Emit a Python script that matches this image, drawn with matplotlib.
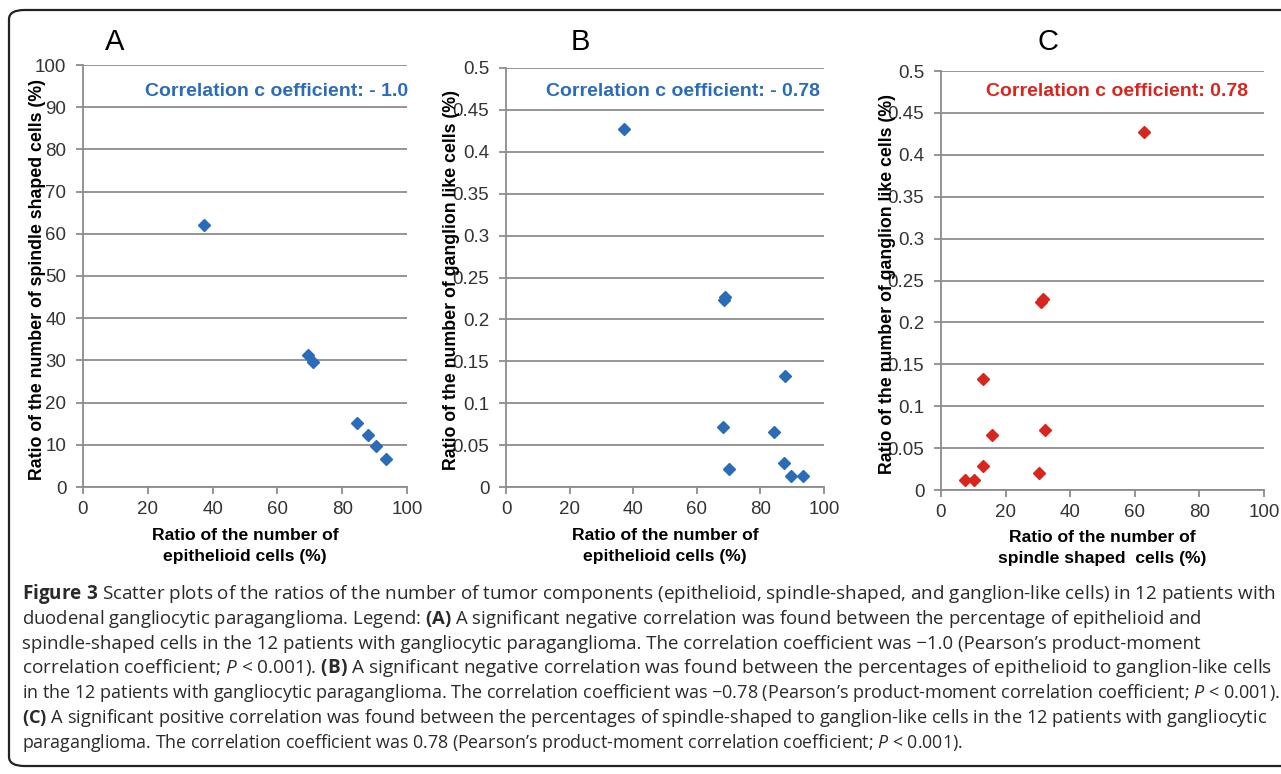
import matplotlib
matplotlib.use("Agg")
import matplotlib.pyplot as plt
from matplotlib.patches import FancyBboxPatch

# --- data ---
a_epitelioide = [37.2, 69.3, 70.9, 84.7, 87.9, 90.4, 93.4]
a_fusiforme = [62.0, 31.3, 29.6, 15.2, 12.3, 9.8, 6.6]

b_epitelioide = [37.1, 68.7, 69.0, 68.1, 70.0, 87.7, 84.3, 87.4, 89.7, 93.4]
b_ganglion = [0.427, 0.223, 0.227, 0.072, 0.021, 0.132, 0.066, 0.029, 0.013, 0.013]

c_fusiforme = [62.7, 30.9, 31.5, 12.9, 32.1, 15.9, 12.9, 30.2, 7.3, 10.3]
c_ganglion = [0.427, 0.224, 0.228, 0.132, 0.072, 0.066, 0.029, 0.020, 0.012, 0.012]

ticks_pct = [0, 20, 40, 60, 80, 100]
ticks_a_y = [0, 10, 20, 30, 40, 50, 60, 70, 80, 90, 100]
ticks_frac = [0, 0.05, 0.1, 0.15, 0.2, 0.25, 0.3, 0.35, 0.4, 0.45, 0.5]

azul = '#2b6cb8'
vermelho = '#d8261f'
cinza = '#8c8c8c'

plt.rcParams['font.family'] = ['Liberation Sans', 'DejaVu Sans']
plt.rcParams['mathtext.fontset'] = 'custom'
plt.rcParams['mathtext.rm'] = 'Open Sans'
plt.rcParams['mathtext.bf'] = 'Open Sans:bold'
plt.rcParams['mathtext.it'] = 'Open Sans:italic'

W, H = 1281, 774
fig = plt.figure(figsize=(W / 100, H / 100), dpi=100)


def caixa(x0, y0, x1, y1):
    # pixel box (top-left origin) -> figure fraction
    return [x0 / W, 1 - y1 / H, (x1 - x0) / W, (y1 - y0) / H]


# moldura arredondada
moldura = FancyBboxPatch((9 / W, 8 / H), 1290 / W, 756 / H,
                         boxstyle="round,pad=0,rounding_size=0.012",
                         transform=fig.transFigure, fill=False,
                         edgecolor='#222222', linewidth=1.6, clip_on=False)
fig.patches.append(moldura)

paineis = [
    dict(box=(83, 65, 407, 487), x=a_epitelioide, y=a_fusiforme, cor=azul,
         yticks=ticks_a_y, ymax=100, letra='A', letra_x=115,
         texto='Correlation c oefficient: - 1.0', texto_x=408,
         ylabel='Ratio of the number of spindle shaped cells (%)', ylabel_x=38,
         xlabel=['Ratio of the number of', 'epithelioid cells (%)'], dy=49),
    dict(box=(506, 68, 824, 487), x=b_epitelioide, y=b_ganglion, cor=azul,
         yticks=ticks_frac, ymax=0.5, letra='B', letra_x=580,
         texto='Correlation c oefficient: - 0.78', texto_x=820,
         ylabel='Ratio of the number of ganglion like cells (%)', ylabel_x=451,
         xlabel=['Ratio of the number of', 'epithelioid cells (%)'], dy=49),
    dict(box=(941, 71, 1264, 490), x=c_fusiforme, y=c_ganglion, cor=vermelho,
         yticks=ticks_frac, ymax=0.5, letra='C', letra_x=1048,
         texto='Correlation c oefficient: 0.78', texto_x=1248,
         ylabel='Ratio of the number of ganglion like cells (%)', ylabel_x=887,
         xlabel=['Ratio of the number of', 'spindle shaped  cells (%)'], dy=48),
]

for p in paineis:
    x0, y0, x1, y1 = p['box']
    ax = fig.add_axes(caixa(x0, y0, x1, y1))
    ax.set_xlim(0, 100)
    ax.set_ylim(0, p['ymax'])
    ax.set_xticks(ticks_pct)
    ax.set_yticks(p['yticks'])
    ax.set_yticklabels([f"{v:g}" for v in p['yticks']])
    ax.yaxis.grid(True, color=cinza, linewidth=1.3)
    ax.set_axisbelow(True)
    for s in ['top', 'right']:
        ax.spines[s].set_visible(False)
    for s in ['left', 'bottom']:
        ax.spines[s].set_color(cinza)
        ax.spines[s].set_linewidth(1.3)
    ax.tick_params(axis='both', colors=cinza, length=5, width=1.3,
                   labelsize=13.5, labelcolor='#333333')
    ax.tick_params(axis='y', pad=7)
    ax.tick_params(axis='x', pad=5)
    ax.plot(p['x'], p['y'], 'D', color=p['cor'], markersize=6.5, linestyle='none',
            clip_on=False)

    # letra do painel
    fig.text(p['letra_x'] / W, 1 - 42 / H, p['letra'], fontsize=21,
             ha='center', va='center')
    # coeficiente de correlacao
    fig.text(p['texto_x'] / W, 1 - 91 / H, p['texto'], color=p['cor'],
             fontsize=14, fontweight='bold', ha='right', va='center')
    # rotulos dos eixos
    fig.text(p['ylabel_x'] / W, 1 - ((y0 + y1) / 2 + 3) / H, p['ylabel'],
             rotation=90, fontsize=12.8, fontweight='bold',
             ha='center', va='center')
    cx = (x0 + x1) / 2
    for i, linha in enumerate(p['xlabel']):
        fig.text(cx / W, 1 - (y1 + p['dy'] + 20.5 * i) / H,
                 linha, fontsize=12.6, fontweight='bold', ha='center', va='center')

# --- legenda da figura ---
legenda = [
    r"$\mathbf{Figure\ 3}$ Scatter plots of the ratios of the number of tumor components (epithelioid, spindle-shaped, and ganglion-like cells) in 12 patients with",
    r"duodenal gangliocytic paraganglioma. Legend: $\mathbf{(A)}$ A significant negative correlation was found between the percentage of epithelioid and",
    r"spindle-shaped cells in the 12 patients with gangliocytic paraganglioma. The correlation coefficient was −1.0 (Pearson’s product-moment",
    r"correlation coefficient; $\mathit{P}$ < 0.001). $\mathbf{(B)}$ A significant negative correlation was found between the percentages of epithelioid to ganglion-like cells",
    r"in the 12 patients with gangliocytic paraganglioma. The correlation coefficient was −0.78 (Pearson’s product-moment correlation coefficient; $\mathit{P}$ < 0.001).",
    r"$\mathbf{(C)}$ A significant positive correlation was found between the percentages of spindle-shaped to ganglion-like cells in the 12 patients with gangliocytic",
    r"paraganglioma. The correlation coefficient was 0.78 (Pearson’s product-moment correlation coefficient; $\mathit{P}$ < 0.001).",
]
# fim aproximado de cada linha na figura original (px)
fim_linha = [1268, 1197, 1195, 1270, 1276, 1264, 962]

renderer = fig.canvas.get_renderer()
for i, linha in enumerate(legenda):
    t = fig.text(22 / W, 1 - (594 + 24.8 * i) / H, linha, fontsize=13.0,
                 family=['Open Sans', 'DejaVu Sans'], ha='left', va='center',
                 color='#2a2a2a')
    largura = t.get_window_extent(renderer).width
    tamanho = 13.0 * (fim_linha[i] - 22) / largura
    t.set_fontsize(min(max(tamanho, 12.5), 13.7))

fig.savefig('out.png', dpi=100)
